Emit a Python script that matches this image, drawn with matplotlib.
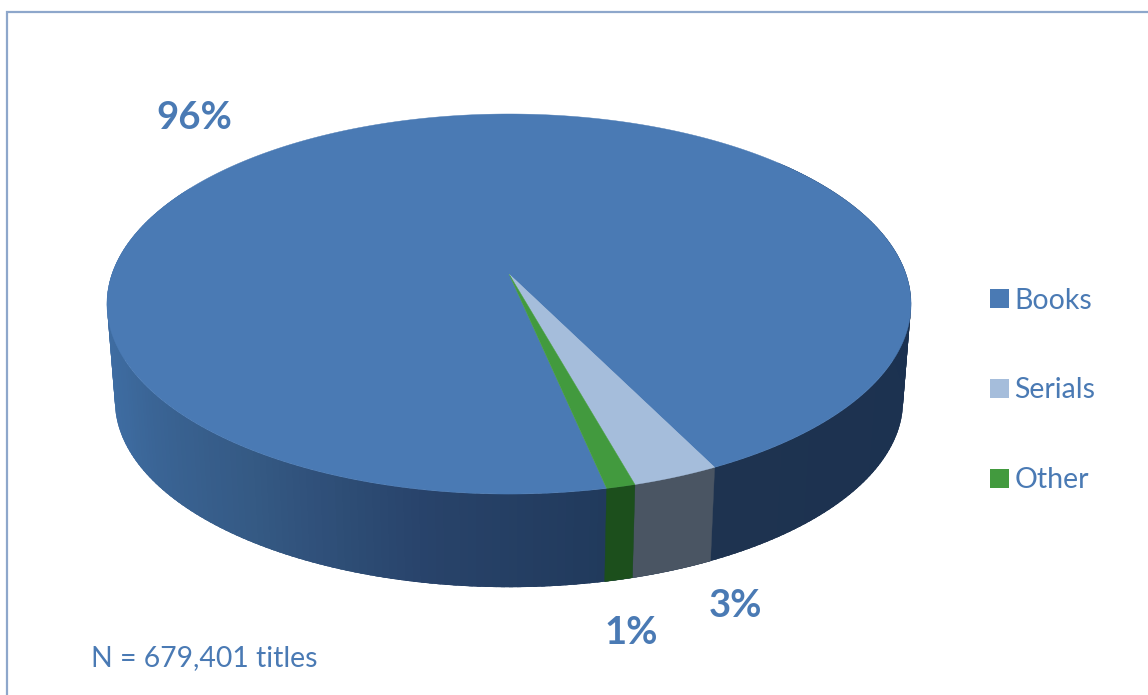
import matplotlib
matplotlib.use('Agg')
import matplotlib.pyplot as plt
from matplotlib.collections import PolyCollection
from matplotlib.colors import to_rgb
from matplotlib.patches import Patch
import numpy as np

labels = ['Books', 'Serials', 'Other']
values = [96, 3, 1]
pct_text = ['96%', '3%', '1%']
note = 'N = 679,401 titles'

top_colors = ['#4a7ab4', '#a5bddb', '#429a3e']
text_color = '#4a7ab4'
frame_color = '#8ea7cb'

plt.rcParams['font.family'] = ['Lato', 'DejaVu Sans']

# shading of the side wall, by angle on the rim
shade_angle = [150, 180, 205, 235, 260, 282, 296, 360, 400]
shade_books = ['#4070a8', '#4070a8', '#3d6a9e', '#355a85', '#28436a', '#213a5c', '#1e3350', '#1b3150', '#1b3150']

cx, tip_y = 509, 274
radius = 397
persp = 0.158
slope = -142
wall_scale, wall_drop = 0.98, 103


def project(theta):
    # unit circle seen in perspective, returned in pixels
    t = np.radians(theta)
    x, y = np.cos(t), np.sin(t)
    w = 1 + persp * y
    return cx + radius * x / w, (slope * y + tip_y) / w


def project_low(theta):
    u, v = project(theta)
    return cx + wall_scale * (u - cx), wall_scale * v + wall_drop


def shade(theta, stops):
    rgb = np.array([to_rgb(c) for c in stops])
    return [np.interp(theta, shade_angle, rgb[:, i]) for i in range(3)]


fig = plt.figure(figsize=(11.48, 6.95), dpi=100)
ax = fig.add_axes([0, 0, 1, 1])
ax.set_xlim(0, 1148)
ax.set_ylim(695, 0)
ax.axis('off')

# clockwise from the left edge of the green slice
start = 282.0
sweep = np.array(values) / sum(values) * 360
ends = start - np.cumsum(sweep)
starts = np.append(start, ends[:-1])

# wall first, the top covers whatever is behind it
# strips overlap the next one so no seams show
polys, colors = [], []
for th in np.arange(150, 400, 1.0):
    strip = np.linspace(th, th + 2.5, 6)
    up = np.column_stack(project(strip))
    low = np.column_stack(project_low(strip[::-1]))
    polys.append(np.vstack([up, low]))
    colors.append(shade(th + 0.5, shade_books))
ax.add_collection(PolyCollection(polys, facecolors=colors, edgecolors='none', linewidths=0, zorder=1))

wall_colors = ['#4a5563', '#1c4f1c']
for i in [1, 2]:
    ts = np.linspace(starts[i], ends[i], 40)
    u, v = project(ts)
    u2, v2 = project_low(ts[::-1])
    ax.fill(np.r_[u, u2], np.r_[v, v2], color=wall_colors[i - 1], lw=0.3, zorder=2)

# top of the pie
for i in range(3):
    ts = np.linspace(starts[i], ends[i], 720 if i == 0 else 40)
    u, v = project(ts)
    ax.fill(np.r_[cx, u], np.r_[tip_y, v], color=top_colors[i], lw=0.3, zorder=3)

# frame has only a top and a left side
ax.plot([7, 7, 1148], [695, 12, 12], color=frame_color, lw=1.6, solid_joinstyle='miter', zorder=5)

ax.text(194, 118, pct_text[0], color=text_color, fontsize=27.5, fontweight='bold', ha='center', va='center')
ax.text(735, 606, pct_text[1], color=text_color, fontsize=27.5, fontweight='bold', ha='center', va='center')
ax.text(631, 633, pct_text[2], color=text_color, fontsize=27.5, fontweight='bold', ha='center', va='center')
ax.text(91, 658, note, color=text_color, fontsize=20.4, ha='left', va='center')

handles = [Patch(facecolor=c, edgecolor='none') for c in top_colors]
ax.legend(handles, labels, loc='center left', bbox_to_anchor=(990 / 1148, 1 - 390.5 / 695), frameon=False,
          fontsize=20.5, labelcolor=text_color, handlelength=0.65, handleheight=0.65, handletextpad=0.2,
          labelspacing=2.24, borderpad=0, borderaxespad=0)

fig.savefig('out.png', dpi=100)
